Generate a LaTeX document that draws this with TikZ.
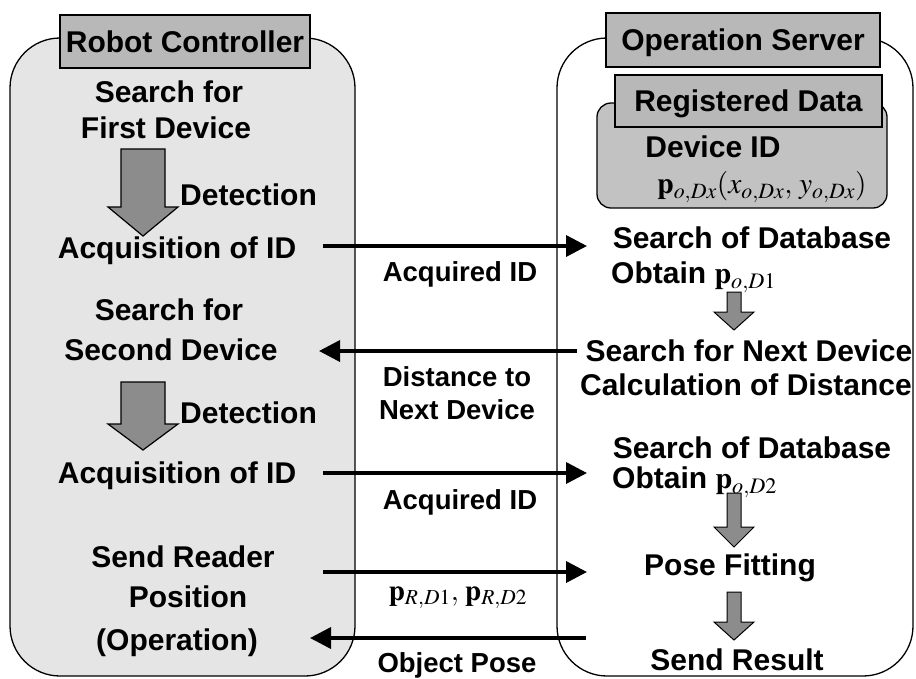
\documentclass[tikz,border=0pt]{standalone}
\usepackage{mathptmx}
\usepackage[no-math]{fontspec}
\setmainfont{Liberation Sans}
\usetikzlibrary{arrows.meta}
\definecolor{panelgray}{gray}{0.90}
\definecolor{titlegray}{gray}{0.72}
\definecolor{reggray}{gray}{0.76}
\definecolor{arrowgray}{gray}{0.55}
\tikzset{
  lbl/.style={font=\bfseries\fontsize{30}{32}\selectfont, inner sep=0pt,
              text height=21.5pt, text depth=0pt},
  midlbl/.style={font=\bfseries\fontsize{27.5}{29}\selectfont, inner sep=0pt,
              text height=19.7pt, text depth=0pt},
  titlebox/.style={lbl, draw, line width=1.8pt, fill=titlegray},
  panel/.style={draw, line width=1.3pt, rounded corners=50pt},
  regbox/.style={draw, line width=1.3pt, rounded corners=14pt, fill=reggray},
  flow/.style={line width=3.6pt, -{Triangle[length=21pt,width=21pt]}},
  blockarrow/.style={draw, line width=1.2pt, fill=arrowgray, line join=miter},
}
\begin{document}
\begin{tikzpicture}[x=1pt,y=-1pt]
\useasboundingbox (0,0) rectangle (916,678);

% the two swim lanes
\draw[panel, fill=panelgray] (10,38) rectangle (355,676);
\draw[panel, fill=white] (557,38) rectangle (913,676);

% lane titles
\node[titlebox, minimum width=250pt, minimum height=53pt] (rc) at (185,41.5) {Robot Controller};
\node[titlebox, minimum width=274pt, minimum height=54pt] (os) at (743,40) {Operation Server};

% registered data store
\draw[regbox] (597,103) rectangle (887,208);
\node[titlebox, minimum width=267pt, minimum height=52pt] (rd) at (748.5,101) {Registered Data};
\node[lbl] (did) at (713,147) {Device ID};
\node[inner sep=0pt, font=\fontsize{29.5}{31}\selectfont] (pod) at (762,187)
  {$\mathbf{p}_{o,Dx}(x_{o,Dx},\, y_{o,Dx})$};

% robot controller steps
\node[lbl] (sf1) at (169,92) {Search for};
\node[lbl] (fd1) at (166,128) {First Device};
\node[lbl, anchor=west] (det1) at (180,195) {Detection};
\node[lbl] (acq1) at (177,248) {Acquisition of ID};
\node[lbl] (sf2) at (169,310) {Search for};
\node[lbl] (sd2) at (171,350) {Second Device};
\node[lbl, anchor=west] (det2) at (180,413) {Detection};
\node[lbl] (acq2) at (177,473) {Acquisition of ID};
\node[lbl] (srd) at (183,557) {Send Reader};
\node[lbl] (pos) at (188,597) {Position};
\node[lbl] (oper) at (177,640) {(Operation)};

% detection block arrows
\draw[blockarrow] (121,149) -- (165,149) -- (165,207) -- (178,207) -- (143,236)
  -- (108,207) -- (121,207) -- cycle;
\draw[blockarrow] (121,382) -- (165,382) -- (165,424) -- (178,424) -- (143,450)
  -- (108,424) -- (121,424) -- cycle;

% operation server steps
\node[lbl] (sdb1) at (752,238) {Search of Database};
\node[lbl, anchor=west] (obt1) at (611,273) {Obtain $\mathbf{p}_{o,D1}$};
\node[lbl] (snd) at (749,351) {Search for Next Device};
\node[lbl] (cod) at (746,385) {Calculation of Distance};
\node[lbl] (sdb2) at (752,448) {Search of Database};
\node[lbl, anchor=west] (obt2) at (612,478) {Obtain $\mathbf{p}_{o,D2}$};
\node[lbl] (pf) at (730,565) {Pose Fitting};
\node[lbl] (sres) at (737,660) {Send Result};

% small step arrows in the server lane
\draw[blockarrow, line width=1pt] (727,292) -- (741,292) -- (741,312) -- (754,312) -- (734,330)
  -- (714,312) -- (727,312) -- cycle;
\draw[blockarrow, line width=1pt] (727,493) -- (741,493) -- (741,527) -- (754,527) -- (734,547)
  -- (714,527) -- (727,527) -- cycle;
\draw[blockarrow, line width=1pt] (727,592) -- (741,592) -- (741,622) -- (754,622) -- (734,640)
  -- (714,622) -- (727,622) -- cycle;

% message end points
\coordinate (m1s) at (323,246);  \coordinate (m1e) at (587,246);
\coordinate (m2s) at (577,351);  \coordinate (m2e) at (319,351);
\coordinate (m3s) at (323,473);  \coordinate (m3e) at (587,473);
\coordinate (m4s) at (323,572);  \coordinate (m4e) at (587,572);
\coordinate (m5s) at (586,638);  \coordinate (m5e) at (310,638);

% messages between controller and server
\draw[flow] (m1s) -- (m1e);
\draw[flow] (m2s) -- (m2e);
\draw[flow] (m3s) -- (m3e);
\draw[flow] (m4s) -- (m4e);
\draw[flow] (m5s) -- (m5e);

\node[midlbl] (l1) at (460,272) {Acquired ID};
\node[midlbl] (l2a) at (457,377) {Distance to};
\node[midlbl] (l2b) at (457,410) {Next Device};
\node[midlbl] (l3) at (460,500) {Acquired ID};
\node[inner sep=0pt, font=\fontsize{29}{31}\selectfont] (l4) at (458,598)
  {$\mathbf{p}_{R,D1},\, \mathbf{p}_{R,D2}$};
\node[midlbl] (l5) at (457,663) {Object Pose};
\end{tikzpicture}
\end{document}
